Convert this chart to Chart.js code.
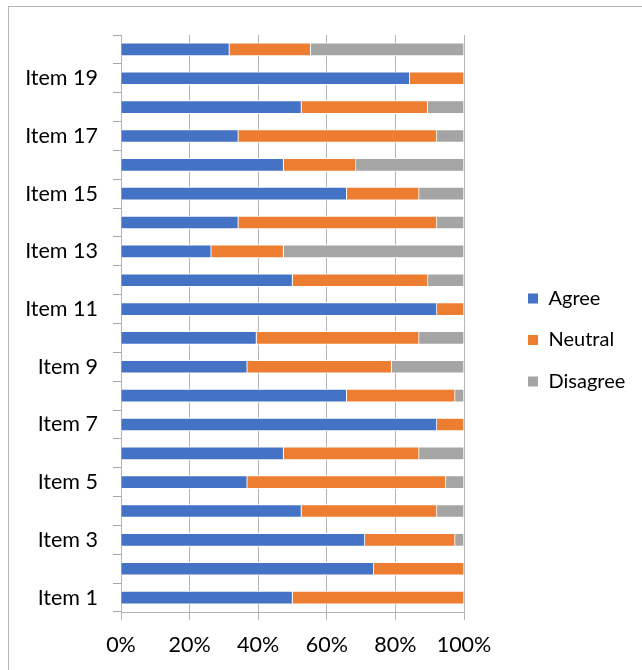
<!DOCTYPE html>
<html>
<head>
<meta charset="utf-8">
<script src="https://cdn.jsdelivr.net/npm/chart.js@4"></script>
<style>
html, body { margin: 0; padding: 0; background: #fff; overflow: hidden; }
#frame { position: absolute; left: 8px; top: 6px; width: 700px; height: 700px; border-left: 1px solid #b4b4b4; border-top: 1px solid #b4b4b4; }
#wrap { position: absolute; left: 0; top: 0; width: 642px; height: 670px; }
</style>
</head>
<body>
<div id="frame"></div>
<div id="wrap"><canvas id="chart" width="642" height="670"></canvas></div>
<script>
// share of answers per item, in percent (Item 1 .. Item 20)
var items = ['Item 1','Item 2','Item 3','Item 4','Item 5','Item 6','Item 7','Item 8','Item 9','Item 10',
             'Item 11','Item 12','Item 13','Item 14','Item 15','Item 16','Item 17','Item 18','Item 19','Item 20'];
var agree    = [50.0, 73.7, 71.1, 52.6, 36.8, 47.4, 92.1, 65.8, 36.8, 39.5, 92.1, 50.0, 26.3, 34.2, 65.8, 47.4, 34.2, 52.6, 84.2, 31.6];
var neutral  = [50.0, 26.3, 26.3, 39.5, 57.9, 39.5,  7.9, 31.6, 42.1, 47.4,  7.9, 39.5, 21.1, 57.9, 21.1, 21.1, 57.9, 36.8, 15.8, 23.7];
var disagree = [ 0.0,  0.0,  2.6,  7.9,  5.3, 13.1,  0.0,  2.6, 21.1, 13.1,  0.0, 10.5, 52.6,  7.9, 13.1, 31.5,  7.9, 10.6,  0.0, 44.7];
var xTicks = [0, 20, 40, 60, 80, 100];

var font = 'Lato, "Open Sans", sans-serif';

var bar = function(label, data, color) {
    return {
        label: label,
        data: data,
        backgroundColor: color,
        borderColor: '#ffffff',
        borderWidth: 1,
        barThickness: 13
    };
};

// legend sits away from the plot, like the excel one
var placeLegend = {
    id: 'placeLegend',
    afterLayout: function(chart) {
        var lg = chart.legend;
        var w = lg.width;
        lg.left = 506;
        lg.right = lg.left + w;
        lg.top = 0;
        lg.bottom = 680;
    }
};

new Chart(document.getElementById('chart'), {
    type: 'bar',
    data: {
        labels: items,
        datasets: [
            bar('Agree', agree, '#4472C4'),
            bar('Neutral', neutral, '#ED7D31'),
            bar('Disagree', disagree, '#A5A5A5')
        ]
    },
    plugins: [placeLegend],
    options: {
        responsive: false,
        animation: false,
        indexAxis: 'y',
        layout: { padding: { left: 8, top: 35, right: 6, bottom: 10 } },
        plugins: {
            legend: {
                position: 'right',
                labels: {
                    boxWidth: 11,
                    boxHeight: 11,
                    padding: 21.5,
                    color: '#000',
                    font: { family: font, size: 20 }
                }
            },
            tooltip: { enabled: false }
        },
        scales: {
            x: {
                stacked: true,
                min: 0,
                max: 100,
                afterBuildTicks: function(s) { s.ticks = xTicks.map(function(v) { return { value: v }; }); },
                ticks: {
                    callback: function(v) { return v + '%'; },
                    padding: 12,
                    maxRotation: 0,
                    color: '#000',
                    font: { family: font, size: 21.5 }
                },
                grid: { color: '#b4b4b4', tickLength: 8 },
                border: { color: '#b4b4b4' },
                afterFit: function(s) { s.height = 48; s.paddingRight = 178; }
            },
            y: {
                stacked: true,
                reverse: true,
                ticks: {
                    autoSkip: false,
                    padding: 15,
                    color: '#000',
                    font: { family: font, size: 21.5 },
                    callback: function(v, i) { return i % 2 === 0 ? items[i] : ''; }
                },
                grid: { drawOnChartArea: false, tickLength: 8, color: '#a6a6a6', offset: true },
                border: { color: '#b4b4b4' },
                afterFit: function(s) { s.width = 113; }
            }
        }
    }
});
</script>
</body>
</html>
